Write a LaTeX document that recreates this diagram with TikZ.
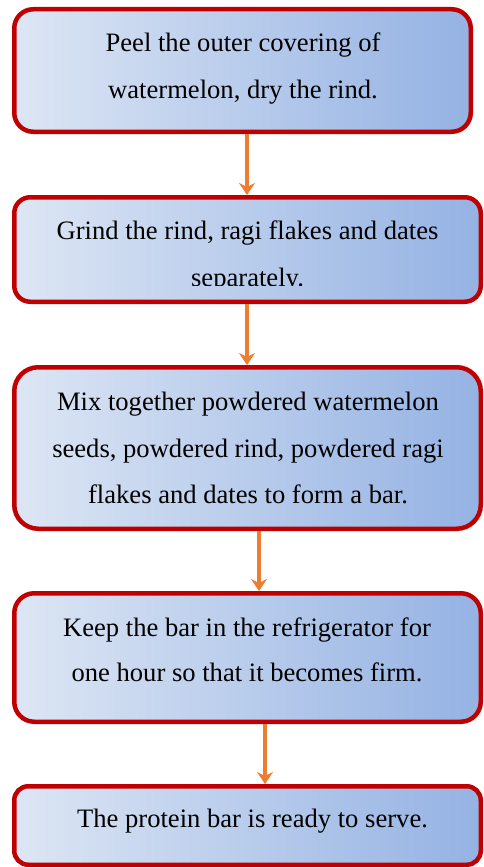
\documentclass[tikz,border=0pt]{standalone}
\usepackage{fontspec}
\setmainfont{Liberation Serif}
\usetikzlibrary{arrows.meta}
\definecolor{boxred}{HTML}{C00000}
\definecolor{gleft}{HTML}{DDE6F4}
\definecolor{gright}{HTML}{94B2E3}
\definecolor{flowor}{HTML}{ED7D31}
\begin{document}
\begin{tikzpicture}[x=1pt,y=-1pt,
  stepbox/.style={draw=boxred, line width=4.5pt, left color=gleft, right color=gright, inner sep=0pt},
  lbl/.style={anchor=base, inner sep=0pt, font=\fontsize{26.6}{30}\selectfont},
  flow/.style={draw=flowor, line width=4.5pt, -{Stealth[length=12pt,width=16pt,inset=4pt]}}]
\useasboundingbox (0,0) rectangle (484,867);

\node[stepbox, rounded corners=19pt, minimum width=456.5pt, minimum height=122.5pt] (b1) at (242.5,70.5) {};
\node[stepbox, rounded corners=16pt, minimum width=466.5pt, minimum height=104.5pt] (b2) at (247.5,249.5) {};
\node[stepbox, rounded corners=24pt, minimum width=466.5pt, minimum height=161.5pt] (b3) at (247.5,448) {};
\node[stepbox, rounded corners=20pt, minimum width=466.5pt, minimum height=128.5pt] (b4) at (247.5,657.5) {};
\node[stepbox, rounded corners=14pt, minimum width=466.5pt, minimum height=78.5pt] (b5) at (247.5,825.5) {};

\node[lbl] (t1a) at (243,52) {Peel the outer covering of};
\node[lbl] (t1b) at (243,98) {watermelon, dry the rind.};

\node[lbl] (t2a) at (247.5,239) {Grind the rind, ragi flakes and dates};
\begin{scope}
  \clip (0,0) rectangle (484,285);
  \node[lbl] (t2b) at (247.5,286) {separately.};
\end{scope}

\node[lbl] (t3a) at (248,410) {Mix together powdered watermelon};
\node[lbl] (t3b) at (248,457) {seeds, powdered rind, powdered ragi};
\node[lbl] (t3c) at (248,503) {flakes and dates to form a bar.};

\node[lbl] (t4a) at (247,636) {Keep the bar in the refrigerator for};
\node[lbl] (t4b) at (247,681) {one hour so that it becomes firm.};

\node[lbl] (t5a) at (252.5,827) {The protein bar is ready to serve.};

\coordinate (c1) at (247,0);
\coordinate (c2) at (247,0);
\coordinate (c3) at (259,0);
\coordinate (c4) at (265,0);
\draw[flow] (b1.south -| c1) -- (b2.north -| c1);
\draw[flow] (b2.south -| c2) -- (b3.north -| c2);
\draw[flow] (b3.south -| c3) -- (b4.north -| c3);
\draw[flow] (b4.south -| c4) -- (b5.north -| c4);
\end{tikzpicture}
\end{document}
